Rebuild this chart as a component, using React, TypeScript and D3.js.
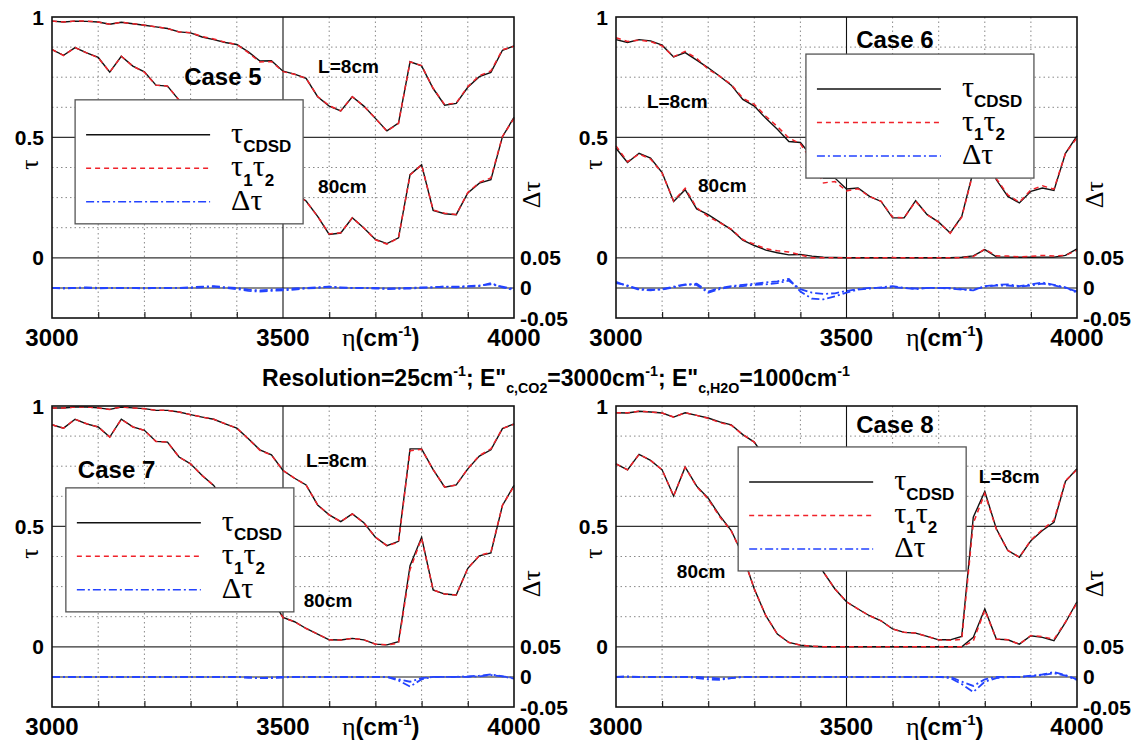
import React, { useEffect, useRef } from "react";
import * as d3 from "d3";

// wavenumber grid (cm-1), 25 cm-1 resolution
const ETA = [
  3000, 3025, 3050, 3075, 3100, 3125, 3150, 3175, 3200, 3225, 3250, 3275, 3300, 3325,
  3350, 3375, 3400, 3425, 3450, 3475, 3500, 3525, 3550, 3575, 3600, 3625, 3650, 3675,
  3700, 3725, 3750, 3775, 3800, 3825, 3850, 3875, 3900, 3925, 3950, 3975, 4000,
];

const X_LABELS = [3000, 3500, 4000];
const X_GRID = [3100, 3200, 3300, 3400, 3600, 3700, 3800, 3900];
const TAU_LABELS = [0, 0.5, 1];
const TAU_GRID = [0.125, 0.25, 0.375, 0.625, 0.75, 0.875];
const DTAU_LABELS = [0.05, 0, -0.05];

// Case 5
const case5Tau8 = [0.983, 0.979, 0.983, 0.982, 0.979, 0.97, 0.978, 0.972, 0.966, 0.959, 0.952, 0.938, 0.934, 0.917, 0.906, 0.894, 0.886, 0.855, 0.817, 0.818, 0.775, 0.763, 0.745, 0.669, 0.63, 0.61, 0.669, 0.63, 0.579, 0.527, 0.559, 0.814, 0.797, 0.703, 0.634, 0.641, 0.708, 0.752, 0.77, 0.862, 0.88];
const case5Tau80 = [0.865, 0.841, 0.873, 0.851, 0.832, 0.771, 0.837, 0.796, 0.772, 0.717, 0.713, 0.655, 0.6, 0.55, 0.5, 0.45, 0.42, 0.38, 0.34, 0.32, 0.29, 0.27, 0.236, 0.172, 0.097, 0.103, 0.166, 0.124, 0.076, 0.059, 0.083, 0.345, 0.386, 0.197, 0.183, 0.179, 0.269, 0.31, 0.324, 0.503, 0.583];
const case5D8 = [0, 0, 0, 0.001, 0, 0, 0, 0, 0, 0, 0, 0, 0.001, 0.002, 0.003, 0.001, 0, -0.003, -0.004, -0.003, -0.002, -0.001, 0, 0.001, 0.002, 0, 0, 0, 0, -0.001, -0.001, 0, 0.001, 0.001, 0.002, 0.002, 0.003, 0.004, 0.006, 0.002, -0.002];
const case5D80 = [0, -0.001, 0, 0, -0.001, 0, 0, 0, -0.001, 0, 0, 0, 0, 0.001, 0.002, 0, -0.002, -0.005, -0.006, -0.005, -0.004, -0.003, -0.001, 0, 0.002, 0.001, 0, 0, -0.001, -0.002, -0.001, -0.001, 0, 0.001, 0.002, 0.001, 0.002, 0.003, 0.008, 0.001, -0.004];

// Case 6
const case6Tau8 = [0.906, 0.894, 0.906, 0.901, 0.883, 0.834, 0.852, 0.821, 0.789, 0.754, 0.717, 0.658, 0.63, 0.579, 0.534, 0.483, 0.479, 0.42, 0.33, 0.331, 0.286, 0.29, 0.255, 0.234, 0.166, 0.166, 0.237, 0.179, 0.148, 0.103, 0.172, 0.36, 0.45, 0.324, 0.255, 0.228, 0.276, 0.29, 0.28, 0.434, 0.506];
const case6Tau80 = [0.455, 0.396, 0.434, 0.414, 0.354, 0.234, 0.283, 0.203, 0.179, 0.148, 0.117, 0.073, 0.051, 0.032, 0.021, 0.012, 0.014, 0.007, 0.003, 0.001, 0, 0, 0, 0, 0, 0, 0, 0, 0, 0, 0.002, 0.008, 0.034, 0.004, 0.003, 0.002, 0.002, 0.003, 0.003, 0.01, 0.037];
const case6D8 = [0.008, 0.004, -0.002, -0.003, -0.003, 0.001, 0.005, 0.007, -0.006, 0, 0.003, 0.005, 0.007, 0.009, 0.011, 0.015, -0.006, -0.018, -0.019, -0.014, -0.008, -0.003, -0.001, 0.001, 0.003, 0, -0.002, 0, 0, -0.001, -0.003, -0.004, 0.003, 0.005, 0.006, 0.003, 0.006, 0.009, 0.005, 0.001, -0.008];
const case6D80 = [0.01, 0.003, -0.003, -0.004, -0.002, 0.002, 0.006, 0.005, -0.008, -0.002, 0.002, 0.003, 0.005, 0.006, 0.008, 0.012, -0.002, -0.008, -0.01, -0.009, -0.005, -0.002, 0, 0, 0.001, 0, -0.001, 0, 0, 0, -0.002, -0.003, 0.002, 0.004, 0.004, 0.002, 0.004, 0.007, 0.004, 0, -0.006];

// Case 7
const case7Tau8 = [0.992, 0.992, 0.996, 0.996, 0.992, 0.986, 0.996, 0.992, 0.989, 0.982, 0.982, 0.975, 0.964, 0.954, 0.945, 0.926, 0.908, 0.864, 0.818, 0.797, 0.732, 0.7, 0.672, 0.589, 0.548, 0.52, 0.552, 0.515, 0.455, 0.42, 0.438, 0.822, 0.822, 0.736, 0.663, 0.672, 0.739, 0.792, 0.818, 0.906, 0.926];
const case7Tau80 = [0.922, 0.908, 0.945, 0.926, 0.913, 0.871, 0.945, 0.913, 0.899, 0.853, 0.85, 0.788, 0.76, 0.711, 0.67, 0.6, 0.5, 0.4, 0.3, 0.2, 0.122, 0.104, 0.076, 0.053, 0.029, 0.028, 0.035, 0.029, 0.011, 0.008, 0.021, 0.337, 0.455, 0.236, 0.219, 0.215, 0.326, 0.378, 0.39, 0.587, 0.67];
const case7D8 = [0, 0, 0, 0, 0, 0, 0, 0, 0, 0, 0, 0, 0, 0, 0, 0, 0, -0.001, -0.002, -0.001, 0, 0, 0, 0, 0, 0, 0, 0, 0, 0, -0.004, -0.008, -0.002, 0, 0, 0, 0.001, 0.002, 0.004, 0.001, -0.002];
const case7D80 = [0, 0, 0, 0, 0, 0, 0, 0, 0, 0, 0, 0, 0, 0, 0, 0, 0, -0.001, -0.002, -0.002, -0.001, 0, 0, 0, 0, 0, 0, 0, 0, 0, -0.006, -0.016, -0.004, 0, 0, 0, 0, 0.001, 0.003, 0.001, -0.003];

// Case 8
const case8Tau8 = [0.972, 0.971, 0.978, 0.975, 0.971, 0.954, 0.972, 0.961, 0.95, 0.934, 0.922, 0.881, 0.85, 0.78, 0.68, 0.58, 0.48, 0.4, 0.31, 0.24, 0.187, 0.157, 0.129, 0.108, 0.074, 0.06, 0.057, 0.043, 0.029, 0.029, 0.043, 0.538, 0.645, 0.49, 0.4, 0.372, 0.441, 0.483, 0.517, 0.687, 0.739];
const case8Tau80 = [0.76, 0.735, 0.799, 0.774, 0.735, 0.626, 0.746, 0.667, 0.617, 0.545, 0.483, 0.38, 0.24, 0.129, 0.053, 0.018, 0.007, 0.002, 0, 0, 0, 0, 0, 0, 0, 0, 0, 0, 0, 0, 0, 0.039, 0.157, 0.032, 0.029, 0.011, 0.046, 0.039, 0.025, 0.101, 0.187];
const case8D8 = [0, 0.001, 0, 0, 0, 0, 0, 0, -0.001, -0.003, -0.002, 0, 0, 0, 0, 0, 0, 0, 0, 0, 0, 0, 0, 0, 0, 0, 0, 0, 0, -0.002, -0.012, -0.025, -0.008, -0.002, 0, 0, 0.002, 0.004, 0.008, 0.003, -0.004];
const case8D80 = [0, 0, 0, 0, 0, 0, 0, -0.002, -0.004, -0.005, -0.002, 0, 0, 0, 0, 0, 0, 0, 0, 0, 0, 0, 0, 0, 0, 0, 0, 0, 0, 0, -0.008, -0.015, -0.004, 0, 0, 0, 0.001, 0.003, 0.006, 0.002, -0.005];

const PANELS = [
  { label: "Case 5", left: 52, top: 17, width: 462, tau8: case5Tau8, tau80: case5Tau80, d8: case5D8, d80: case5D80, caseAt: [3286, 0.718], l8At: [3576, 0.768], l80At: [3576, 0.27], legendAt: [3050, 0.656] },
  { label: "Case 6", left: 616, top: 17, width: 461, tau8: case6Tau8, tau80: case6Tau80, d8: case6D8, d80: case6D80, caseAt: [3521, 0.871], l8At: [3067, 0.622], l80At: [3178, 0.274], legendAt: [3412, 0.846] },
  { label: "Case 7", left: 52, top: 406, width: 462, tau8: case7Tau8, tau80: case7Tau80, d8: case7D8, d80: case7D80, caseAt: [3056, 0.701], l8At: [3550, 0.747], l80At: [3545, 0.166], legendAt: [3030, 0.66] },
  { label: "Case 8", left: 616, top: 406, width: 461, tau8: case8Tau8, tau80: case8Tau80, d8: case8D8, d80: case8D80, caseAt: [3521, 0.888], l8At: [3787, 0.681], l80At: [3132, 0.286], legendAt: [3265, 0.83] },
];

const SANS = "'Liberation Sans', Arial, Helvetica, sans-serif";
const SERIF = "'Liberation Serif', 'Times New Roman', serif";

// text with super/subscripts built from tspans
function richText(sel, parts, size) {
  let shift = 0;
  parts.forEach((p) => {
    const target = p.kind === "sup" ? -size * 0.42 : p.kind === "sub" ? size * 0.32 : 0;
    sel
      .append("tspan")
      .attr("dy", target - shift)
      .style("font-size", (p.size || (p.kind ? size * 0.62 : size)) + "px")
      .style("font-family", p.family || SANS)
      .style("font-weight", p.weight || "bold")
      .text(p.text);
    shift = target;
  });
}

function drawPanel(root, cfg) {
  const h = 301;
  const w = cfg.width;
  const g = root.append("g").attr("transform", `translate(${cfg.left},${cfg.top})`);

  const x = d3.scaleLinear().domain([3000, 4000]).range([0, w]);
  const y = d3.scaleLinear().domain([-0.25, 1]).range([h, 0]);
  const yd = d3.scaleLinear().domain([-0.05, 0.05]).range([h, y(0)]);

  // dotted grid
  g.selectAll(".vgrid")
    .data(X_GRID)
    .enter()
    .append("line")
    .attr("x1", (d) => x(d))
    .attr("x2", (d) => x(d))
    .attr("y1", 0)
    .attr("y2", h)
    .attr("stroke", "#888")
    .attr("stroke-width", 1)
    .attr("stroke-dasharray", "1.5,3");

  g.selectAll(".hgrid")
    .data(TAU_GRID)
    .enter()
    .append("line")
    .attr("x1", 0)
    .attr("x2", w)
    .attr("y1", (d) => y(d))
    .attr("y2", (d) => y(d))
    .attr("stroke", "#888")
    .attr("stroke-width", 1)
    .attr("stroke-dasharray", "1.5,3");

  // solid reference lines
  [0, 0.5].forEach((v) => {
    g.append("line").attr("x1", 0).attr("x2", w).attr("y1", y(v)).attr("y2", y(v)).attr("stroke", "#333").attr("stroke-width", 1.2);
  });
  g.append("line").attr("x1", 0).attr("x2", w).attr("y1", yd(0)).attr("y2", yd(0)).attr("stroke", "#666").attr("stroke-width", 1.5);
  g.append("line").attr("x1", x(3500)).attr("x2", x(3500)).attr("y1", 0).attr("y2", h).attr("stroke", "#111").attr("stroke-width", 1.1);

  // bottom ticks
  g.append("g")
    .attr("transform", `translate(0,${h})`)
    .call(d3.axisBottom(x).tickValues(X_GRID).tickSize(-6).tickFormat(() => ""))
    .call((a) => a.select(".domain").remove())
    .selectAll("line")
    .attr("stroke", "#222")
    .attr("stroke-width", 1.2);

  const line = d3
    .line()
    .x((d, i) => x(ETA[i]))
    .y((d) => y(d));
  const dline = d3
    .line()
    .x((d, i) => x(ETA[i]))
    .y((d) => yd(d));

  const series = [
    { tau: cfg.tau8, dt: cfg.d8 },
    { tau: cfg.tau80, dt: cfg.d80 },
  ];

  series.forEach((s) => {
    const prod = s.tau.map((v, i) => Math.max(0, v + s.dt[i]));
    g.append("path").datum(s.tau).attr("fill", "none").attr("stroke", "#111").attr("stroke-width", 1.4).attr("d", line);
    g.append("path")
      .datum(prod)
      .attr("fill", "none")
      .attr("stroke", "#f0222a")
      .attr("stroke-width", 1.5)
      .attr("stroke-dasharray", "5,4")
      .attr("d", line);
  });

  series.forEach((s) => {
    g.append("path")
      .datum(s.dt)
      .attr("fill", "none")
      .attr("stroke", "#2343ff")
      .attr("stroke-width", 1.8)
      .attr("stroke-dasharray", "8,3,2,3")
      .attr("d", dline);
  });

  // frame
  g.append("rect").attr("width", w).attr("height", h).attr("fill", "none").attr("stroke", "#111").attr("stroke-width", 1.6);

  // tick labels
  g.selectAll(".ylab")
    .data(TAU_LABELS)
    .enter()
    .append("text")
    .attr("x", -8)
    .attr("y", (d) => y(d))
    .attr("dy", "0.36em")
    .attr("text-anchor", "end")
    .style("font-family", SANS)
    .style("font-weight", "bold")
    .style("font-size", "21px")
    .text((d) => String(d));

  g.selectAll(".dlab")
    .data(DTAU_LABELS)
    .enter()
    .append("text")
    .attr("x", w + 6)
    .attr("y", (d) => yd(d))
    .attr("dy", "0.36em")
    .style("font-family", SANS)
    .style("font-weight", "bold")
    .style("font-size", "21px")
    .text((d) => String(d));

  g.selectAll(".xlab")
    .data(X_LABELS)
    .enter()
    .append("text")
    .attr("x", (d) => x(d))
    .attr("y", h + 28)
    .attr("text-anchor", "middle")
    .style("font-family", SANS)
    .style("font-weight", "bold")
    .style("font-size", "24px")
    .text((d) => String(d));

  // axis titles
  richText(
    g.append("text").attr("x", 290).attr("y", h + 28),
    [
      { text: "η", family: SERIF, weight: "normal", size: 26 },
      { text: "(cm" },
      { text: "-1", kind: "sup" },
      { text: ")" },
    ],
    24
  );
  g.append("text")
    .attr("transform", `translate(-14,${h * 0.49}) rotate(-90)`)
    .attr("text-anchor", "middle")
    .style("font-family", SERIF)
    .style("font-size", "26px")
    .text("τ");
  g.append("text")
    .attr("transform", `translate(${w + 26},${h * 0.59}) rotate(-90)`)
    .attr("text-anchor", "middle")
    .style("font-family", SERIF)
    .style("font-size", "26px")
    .text("Δτ");

  // annotations
  const note = (pos, txt, size) =>
    g.append("text")
      .attr("x", x(pos[0]))
      .attr("y", y(pos[1]))
      .style("font-family", SANS)
      .style("font-weight", "bold")
      .style("font-size", size + "px")
      .text(txt);
  note(cfg.caseAt, cfg.label, 24);
  note(cfg.l8At, "L=8cm", 19);
  note(cfg.l80At, "80cm", 19);

  // legend
  const lx = x(cfg.legendAt[0]);
  const ly = y(cfg.legendAt[1]);
  const leg = g.append("g").attr("transform", `translate(${lx},${ly})`);
  leg.append("rect").attr("width", 228).attr("height", 124).attr("fill", "#fff").attr("stroke", "#555").attr("stroke-width", 1.3);
  const rows = [
    { color: "#111", dash: null, parts: [{ text: "τ", family: SERIF, weight: "normal" }, { text: "CDSD", kind: "sub", size: 17 }] },
    {
      color: "#f0222a",
      dash: "5,4",
      parts: [
        { text: "τ", family: SERIF, weight: "normal" },
        { text: "1", kind: "sub", size: 17 },
        { text: "τ", family: SERIF, weight: "normal" },
        { text: "2", kind: "sub", size: 17 },
      ],
    },
    { color: "#2343ff", dash: "8,3,2,3", parts: [{ text: "Δτ", family: SERIF, weight: "normal" }] },
  ];
  rows.forEach((r, i) => {
    const ry = 35 + i * 33.5;
    const l = leg.append("line").attr("x1", 11).attr("x2", 135).attr("y1", ry).attr("y2", ry).attr("stroke", r.color).attr("stroke-width", 1.5);
    if (r.dash) l.attr("stroke-dasharray", r.dash);
    richText(leg.append("text").attr("x", 156).attr("y", ry + 8), r.parts, 30);
  });
}

const App = () => {
  const ref = useRef(null);

  useEffect(() => {
    const svg = d3.select(ref.current);
    svg.selectAll("*").remove();

    PANELS.forEach((p) => drawPanel(svg, p));

    // shared caption between rows
    richText(
      svg.append("text").attr("x", 556).attr("y", 386).attr("text-anchor", "middle"),
      [
        { text: "Resolution=25cm" },
        { text: "-1", kind: "sup" },
        { text: "; E\"" },
        { text: "c,CO2", kind: "sub" },
        { text: "=3000cm" },
        { text: "-1", kind: "sup" },
        { text: "; E\"" },
        { text: "c,H2O", kind: "sub" },
        { text: "=1000cm" },
        { text: "-1", kind: "sup" },
      ],
      23
    );
  }, []);

  return (
    <svg
      ref={ref}
      width={1136}
      height={746}
      style={{ position: "absolute", left: 0, top: 0, background: "#fff" }}
    />
  );
};

export default App;
